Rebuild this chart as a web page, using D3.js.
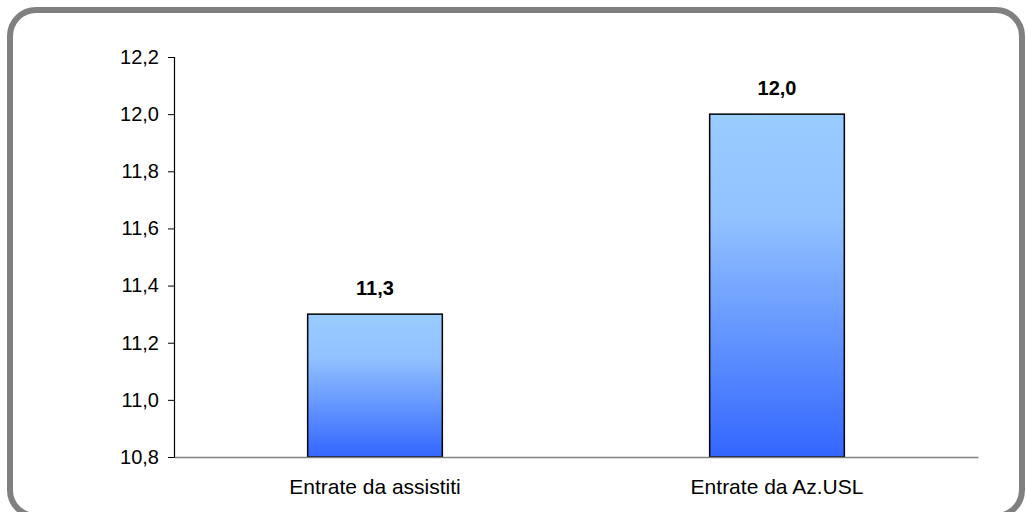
<!DOCTYPE html>
<html><head><meta charset="utf-8">
<script src="https://cdn.jsdelivr.net/npm/d3@7"></script>
<style>body{margin:0;background:#fff}svg{display:block}text{font-family:Arial,"Liberation Sans",sans-serif}</style>
</head><body>
<svg id="c" width="1026" height="512"></svg>
<script>
const categories = ["Entrate da assistiti", "Entrate da Az.USL"];
const values = [11.3, 12.0];
const labels = ["11,3", "12,0"];
const yTicks = [10.8, 11.0, 11.2, 11.4, 11.6, 11.8, 12.0, 12.2];

const svg = d3.select("#c");
const defs = svg.append("defs");
const grad = defs.append("linearGradient").attr("id","g").attr("x1",0).attr("y1",0).attr("x2",0).attr("y2",1);
grad.append("stop").attr("offset","0%").attr("stop-color","#99CCFF");
grad.append("stop").attr("offset","30%").attr("stop-color","#92C2FF");
grad.append("stop").attr("offset","100%").attr("stop-color","#3366FF");

svg.append("rect").attr("x",10).attr("y",10).attr("width",1012).attr("height",506)
  .attr("rx",26).attr("ry",26).attr("fill","#fff").attr("stroke","#808080").attr("stroke-width",6);

const L = 174, R = 978, T = 57, B = 457;
const x = d3.scaleBand().domain(categories).range([L, R]).paddingInner(0.665).paddingOuter(0.3325);
const y = d3.scaleLinear().domain([10.8, 12.2]).range([B, T]);
const FF = "Arial, 'Liberation Sans', sans-serif";

// bars
svg.selectAll(".bar").data(values).enter().append("rect")
  .attr("x",(d,i)=>x(categories[i])).attr("width",x.bandwidth())
  .attr("y",d=>y(d)).attr("height",d=>y(10.8)-y(d))
  .attr("fill","url(#g)").attr("stroke","#000").attr("stroke-width",1.5);

// value labels
svg.selectAll(".vl").data(values).enter().append("text")
  .attr("x",(d,i)=>x(categories[i])+x.bandwidth()/2).attr("y",d=>y(d)-19)
  .attr("text-anchor","middle").attr("font-weight","bold").attr("font-size","20px").attr("fill","#000")
  .text((d,i)=>labels[i]);

// y axis
const yAxis = d3.axisLeft(y).tickValues(yTicks).tickSize(6).tickPadding(9)
  .tickFormat(d=>d3.format(".1f")(d).replace(".",","));
const ga = svg.append("g").attr("transform",`translate(${L},0)`).call(yAxis);
ga.select(".domain").attr("stroke","#000").attr("stroke-width",1.2);
ga.selectAll(".tick line").attr("stroke","#000");
ga.selectAll(".tick text").attr("font-size","20px").attr("fill","#000").style("font-family",FF);

// x axis
const xAxis = d3.axisBottom(x).tickSize(0).tickPadding(22);
const gx = svg.append("g").attr("transform",`translate(0,${B})`).call(xAxis);
gx.select(".domain").attr("stroke","#808080").attr("stroke-width",1.5);
gx.selectAll(".tick text").attr("font-size","21px").attr("fill","#000").style("font-family",FF);
</script>
</body></html>
